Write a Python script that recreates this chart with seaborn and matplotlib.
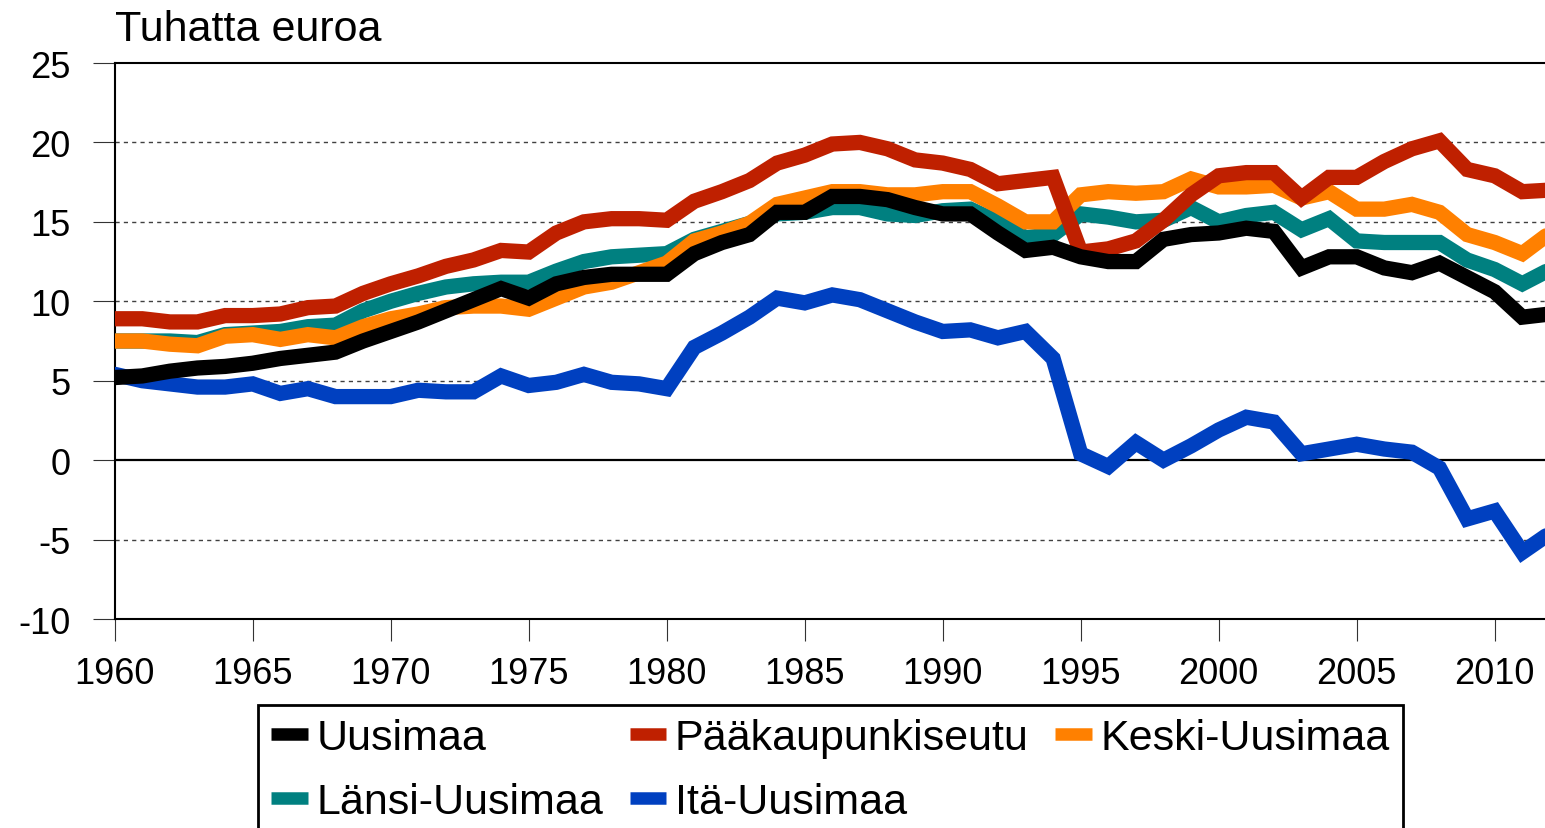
import numpy as np
import pandas as pd
import matplotlib
matplotlib.use("Agg")
import matplotlib.pyplot as plt
from matplotlib.lines import Line2D
import seaborn as sns

# === Data Setup ===
years = list(range(1960, 2013))

uusimaa = [5.2, 5.3, 5.6, 5.8, 5.9, 6.1, 6.4, 6.6, 6.8, 7.5,
           8.1, 8.7, 9.4, 10.1, 10.8, 10.2, 11.1, 11.5, 11.7, 11.7,
           11.7, 13.0, 13.7, 14.2, 15.6, 15.6, 16.6, 16.6, 16.4, 15.9,
           15.5, 15.5, 14.3, 13.2, 13.4, 12.8, 12.5, 12.5, 13.9, 14.2,
           14.3, 14.6, 14.4, 12.1, 12.8, 12.8, 12.1, 11.8, 12.4, 11.5,
           10.6, 9.0, 9.2]
paakaupunkiseutu = [8.9, 8.9, 8.7, 8.7, 9.1, 9.1, 9.2, 9.6, 9.7, 10.5,
                    11.1, 11.6, 12.2, 12.6, 13.2, 13.1, 14.3, 15.0, 15.2, 15.2,
                    15.1, 16.3, 16.9, 17.6, 18.7, 19.2, 19.9, 20.0, 19.6, 18.9,
                    18.7, 18.3, 17.4, 17.6, 17.8, 13.1, 13.3, 13.8, 15.1, 16.7,
                    17.9, 18.1, 18.1, 16.5, 17.8, 17.8, 18.8, 19.6, 20.1, 18.3,
                    17.9, 16.9, 17.0]
keski = [7.5, 7.5, 7.3, 7.2, 7.8, 7.9, 7.6, 7.9, 7.7, 8.4,
         8.9, 9.2, 9.6, 9.7, 9.7, 9.5, 10.2, 10.9, 11.2, 11.8,
         12.4, 13.8, 14.3, 14.9, 16.1, 16.5, 16.9, 16.9, 16.7, 16.7,
         16.9, 16.9, 16.0, 15.0, 15.0, 16.7, 16.9, 16.8, 16.9, 17.7,
         17.2, 17.2, 17.3, 16.5, 16.9, 15.8, 15.8, 16.1, 15.6, 14.2,
         13.7, 13.0, 14.3]
lansi = [7.5, 7.5, 7.5, 7.4, 7.9, 8.0, 8.1, 8.4, 8.5, 9.4,
         10.0, 10.5, 10.9, 11.1, 11.2, 11.2, 11.9, 12.5, 12.8, 12.9,
         13.0, 13.9, 14.4, 14.9, 15.5, 15.6, 15.9, 15.9, 15.5, 15.4,
         15.7, 15.8, 15.0, 14.0, 14.2, 15.5, 15.3, 15.0, 15.1, 15.9,
         15.0, 15.4, 15.6, 14.5, 15.2, 13.8, 13.7, 13.7, 13.7, 12.6,
         12.0, 11.1, 12.0]
ita = [5.4, 5.0, 4.8, 4.6, 4.6, 4.8, 4.2, 4.5, 4.0, 4.0,
       4.0, 4.4, 4.3, 4.3, 5.3, 4.7, 4.9, 5.4, 4.9, 4.8,
       4.5, 7.1, 8.0, 9.0, 10.2, 9.9, 10.4, 10.1, 9.4, 8.7,
       8.1, 8.2, 7.7, 8.1, 6.4, 0.4, -0.4, 1.1, 0.0, 0.9,
       1.9, 2.7, 2.4, 0.4, 0.7, 1.0, 0.7, 0.5, -0.5, -3.7,
       -3.2, -5.8, -4.6]

labels = ['Uusimaa', 'Pääkaupunkiseutu', 'Keski-Uusimaa', 'Länsi-Uusimaa', 'Itä-Uusimaa']
colors = ['#000000', '#BF2000', '#FF8000', '#008080', '#0040C0']
series = [uusimaa, paakaupunkiseutu, keski, lansi, ita]

df = pd.DataFrame({'Vuosi': years})
for name, vals in zip(labels, series):
    df[name] = vals
long = df.melt(id_vars='Vuosi', var_name='Alue', value_name='Arvo')

# === Plot ===
sns.set_style('white')
plt.rcParams['font.family'] = ['Liberation Sans', 'DejaVu Sans']
plt.rcParams['axes.unicode_minus'] = False
plt.rcParams['text.color'] = 'black'

fig = plt.figure(figsize=(15.45, 8.29), dpi=100)
ax = fig.add_axes([114.7 / 1545, 1 - 620 / 829, 1 - 114.7 / 1545, (620 - 64) / 829])

# draw order: bottom to top
draw_order = ['Itä-Uusimaa', 'Länsi-Uusimaa', 'Keski-Uusimaa', 'Pääkaupunkiseutu', 'Uusimaa']
palette = dict(zip(labels, colors))
for i, name in enumerate(draw_order):
    sns.lineplot(data=long[long['Alue'] == name], x='Vuosi', y='Arvo',
                 color=palette[name], linewidth=11, ax=ax, zorder=3 + i,
                 legend=False, solid_joinstyle='miter')

ax.set_xlim(1960, 1960 + (1545 - 114.7) / 27.6)
ax.set_ylim(-10, 25)
ax.set_xticks(range(1960, 2011, 5))
ax.set_yticks(range(-10, 26, 5))
ax.set_xlabel('')
ax.set_ylabel('')

for y in [-5, 5, 10, 15, 20]:
    ax.axhline(y, color='#404040', linewidth=1.0, linestyle=(0, (3, 3)), zorder=1)
ax.axhline(0, color='black', linewidth=1.6, zorder=2)

for side in ['left', 'bottom', 'top']:
    ax.spines[side].set_color('black')
    ax.spines[side].set_linewidth(1.5)
ax.spines['right'].set_visible(False)

ax.tick_params(axis='both', direction='out', length=16, width=0.8, color='#333333',
               labelsize=26, labelcolor='black')
ax.tick_params(axis='y', pad=16, left=True)
ax.tick_params(axis='x', pad=11, bottom=True)

fig.text(114.7 / 1545, 1 - 30 / 829, 'Tuhatta euroa', fontsize=31, va='center', ha='left',
         color='black')

# legend filled row by row: reorder for matplotlib's column-wise fill
handles = {name: Line2D([0], [0], color=c, linewidth=9, solid_capstyle='butt')
           for name, c in zip(labels, colors)}
leg_order = ['Uusimaa', 'Länsi-Uusimaa', 'Pääkaupunkiseutu', 'Itä-Uusimaa', 'Keski-Uusimaa']
leg = fig.legend([handles[n] for n in leg_order], leg_order, loc='upper left',
                 bbox_to_anchor=(258 / 1545, 1 - 706 / 829),
                 ncol=3, fontsize=31, frameon=True, fancybox=False, framealpha=1,
                 edgecolor='black', handlelength=0.85, handletextpad=0.2,
                 columnspacing=0.62, labelspacing=0.55, borderpad=0.3, borderaxespad=0,
                 labelcolor='black')
leg.get_frame().set_linewidth(2)

fig.savefig('out.png', dpi=100)
